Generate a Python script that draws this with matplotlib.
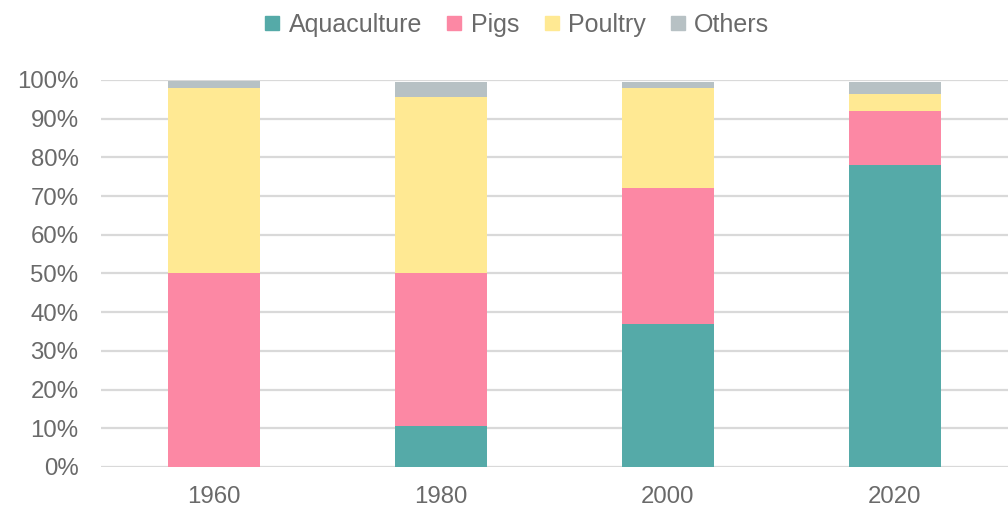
import matplotlib.pyplot as plt
from matplotlib.lines import Line2D
from matplotlib.ticker import PercentFormatter

plt.rcParams['font.family'] = ['Liberation Sans', 'DejaVu Sans']

years = ['1960', '1980', '2000', '2020']
aquaculture = [0.0, 10.5, 37.0, 78.0]
pigs = [50.0, 39.5, 35.0, 14.0]
poultry = [48.0, 45.5, 26.0, 4.5]
others = [1.7, 4.0, 1.5, 3.0]

series = [('Aquaculture', aquaculture, '#55aaa8'),
          ('Pigs', pigs, '#fc88a4'),
          ('Poultry', poultry, '#ffe993'),
          ('Others', others, '#b7c1c4')]

txtcol = '#6a6a6a'

fig = plt.figure(figsize=(10.08, 5.16), dpi=100)
ax = fig.add_axes([0.1, 0.095, 0.9, 0.75])

x = list(range(len(years)))
bottom = [0.0] * len(years)
for name, vals, col in series:
    ax.bar(x, vals, width=0.405, bottom=bottom, color=col, zorder=3)
    bottom = [b + v for b, v in zip(bottom, vals)]

ax.set_xlim(-0.5, 3.5)
ax.set_ylim(0, 100)
ax.set_yticks(range(0, 101, 10))
ax.yaxis.set_major_formatter(PercentFormatter(decimals=0))
ax.set_xticks(x)
ax.set_xticklabels(years)
ax.grid(axis='y', color='#d9d9d9', linewidth=1.6, zorder=0)
for s in ax.spines.values():
    s.set_visible(False)
ax.tick_params(length=0, labelsize=17.3, labelcolor=txtcol)
ax.tick_params(axis='y', pad=16)
ax.tick_params(axis='x', pad=14)

handles = [Line2D([], [], marker='s', linestyle='none', markersize=10.5,
                  color=col) for _, _, col in series]
fig.legend(handles, [s[0] for s in series], loc='center', ncol=4,
           bbox_to_anchor=(0.513, 0.952), frameon=False, fontsize=18,
           labelcolor=txtcol, handlelength=0.6, handletextpad=0.35,
           columnspacing=1.0)

fig.savefig('out.png', dpi=100)
